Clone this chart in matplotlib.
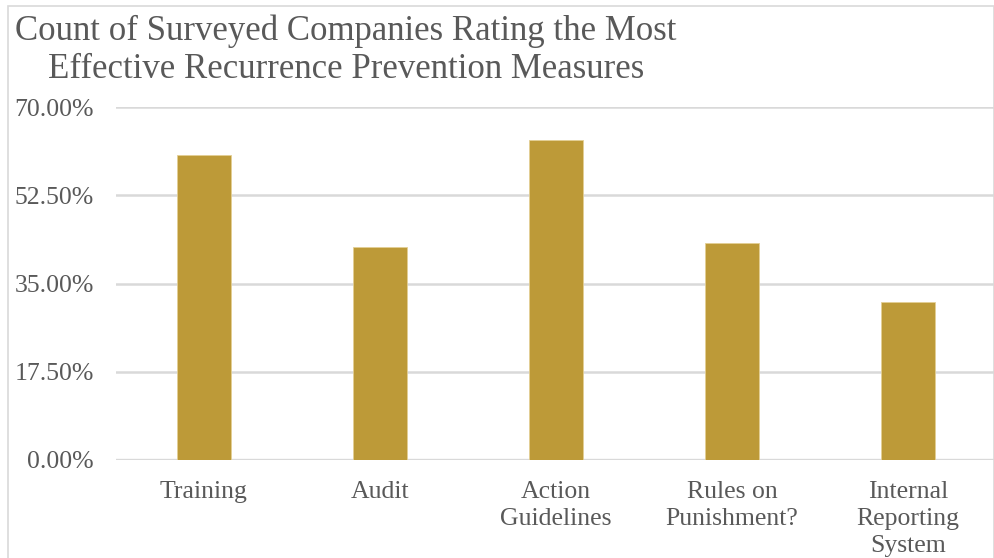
import matplotlib
matplotlib.use("Agg")
import matplotlib.pyplot as plt
from matplotlib.patches import Rectangle
from matplotlib.ticker import FixedLocator, FuncFormatter

# data
categories = ["Training", "Audit", "Action\nGuidelines", "Rules on\nPunishment?", "Internal\nReporting\nSystem"]
shares = [60.4, 42.2, 63.5, 43.1, 31.3]
yticks = [0, 17.5, 35, 52.5, 70]

BAR = "#BD9A38"
TXT = "#595959"
GRID = "#D9D9D9"
FONT = ["Liberation Serif", "DejaVu Serif"]

W, H = 995, 558
fig = plt.figure(figsize=(W / 100, H / 100), dpi=100, facecolor="white")

# chart frame
fig.patches.append(Rectangle((8 / W, -0.05), (994 - 8) / W, (H - 6) / H + 0.05,
                             transform=fig.transFigure, fill=False,
                             edgecolor=GRID, lw=1.2))

ax = fig.add_axes([116 / W, 98 / H, 880 / W, 353 / H])
x = range(len(categories))
ax.bar(x, shares, width=0.31, color=BAR, edgecolor="#E3CF95", lw=0.6, zorder=3)
ax.set_xlim(-0.5, 4.5)
ax.set_ylim(0, 70)

ax.yaxis.set_major_locator(FixedLocator(yticks))
ax.yaxis.set_major_formatter(FuncFormatter(lambda v, _: f"{v:.2f}%"))
ax.grid(axis="y", color=GRID, lw=1.8, zorder=0)
ax.set_xticks(list(x))
ax.set_xticklabels(categories, linespacing=1.3)
for s in ax.spines.values():
    s.set_visible(False)
ax.axhline(0, color=GRID, lw=2.4, zorder=2)
ax.tick_params(length=0, labelcolor=TXT, labelsize=18.5)
ax.tick_params(axis="y", pad=16)
ax.tick_params(axis="x", pad=15)
for lab in ax.get_xticklabels() + ax.get_yticklabels():
    lab.set_family(FONT)

fig.text(346 / W, 1 - 15 / H,
         "Count of Surveyed Companies Rating the Most\nEffective Recurrence Prevention Measures",
         ha="center", va="top", multialignment="center", fontsize=25,
         color=TXT, family=FONT, linespacing=1.2)

fig.savefig("out.png", dpi=100, facecolor="white")
plt.close(fig)
